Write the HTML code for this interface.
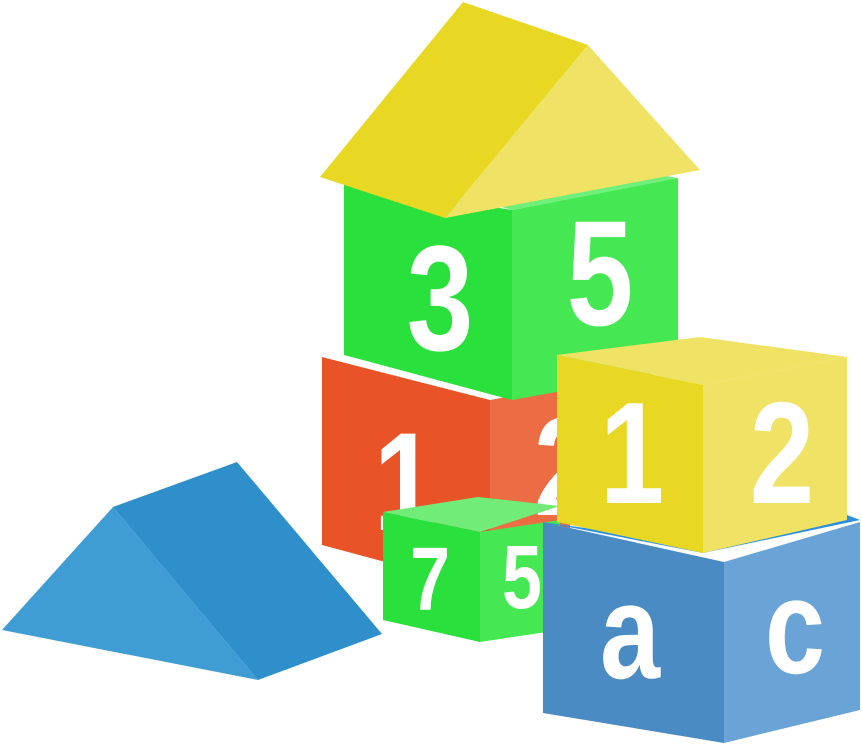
<!DOCTYPE html>
<html><head><meta charset="utf-8"><style>
html,body{margin:0;padding:0;background:#fff;width:862px;height:746px;overflow:hidden}
text{font-family:"Liberation Sans",sans-serif;font-weight:bold;fill:#fff}
</style></head><body>
<svg width="862" height="746" viewBox="0 0 862 746">
<g>
<polygon points="113,507 2,630 258,680" fill="#3f9dd4"/>
<polygon points="113,507 237,462 382,634 258,680" fill="#2f8fca"/>
</g>
<g>
<polygon points="322,357 490,400 490,590 322,545" fill="#e85427"/>
<polygon points="490,400 570,385 570,575 490,590" fill="#ec6c43"/>
<text transform="translate(405,530) scale(0.8,1)" font-size="140" text-anchor="middle">1</text>
<text transform="translate(565,515) scale(0.8,1)" font-size="140" text-anchor="middle">2</text>
</g>
<g>
<polygon points="344,183 512,210 512,400 344,355" fill="#2ae03c"/>
<polygon points="512,210 678,178 678,370 512,400" fill="#45e852"/>
<polygon points="495,205 512,210 678,178 660,175" fill="#6ff07a"/>
<text transform="translate(440,350) scale(0.8,1)" font-size="150" text-anchor="middle">3</text>
<text transform="translate(600,325) scale(0.8,1)" font-size="150" text-anchor="middle">5</text>
</g>
<g>
<polygon points="463,2 320,177 445,218 588,45" fill="#e8d723"/>
<polygon points="588,45 445,218 700,170" fill="#f0e264"/>
</g>
<g>
<polygon points="383,512 478,497 560,506 480,532" fill="#72ec78"/>
<polygon points="383,512 480,532 480,642 383,620" fill="#2ae03c"/>
<polygon points="480,532 560,520 560,630 480,642" fill="#45e852"/>
<text transform="translate(430,610) scale(0.8,1)" font-size="90" text-anchor="middle">7</text>
<text transform="translate(522,608) scale(0.8,1)" font-size="90" text-anchor="middle">5</text>
</g>
<g>
<polygon points="543,522 703,553 860,520 847,515 703,545" fill="#2a8ee0"/>
<polygon points="543,522 724,562 724,743 543,713" fill="#4a8bc4"/>
<polygon points="724,562 860,522 860,710 724,743" fill="#6aa3d6"/>
<text transform="translate(630,678) scale(0.8,1)" font-size="135" text-anchor="middle">a</text>
<text transform="translate(795,673) scale(0.8,1)" font-size="135" text-anchor="middle">c</text>
</g>
<g>
<polygon points="557,355 700,337 847,357 703,385" fill="#f0e264"/>
<polygon points="557,355 703,385 703,553 557,522" fill="#e8d723"/>
<polygon points="703,385 847,357 847,520 703,553" fill="#f0e264"/>
<text transform="translate(632,503) scale(0.8,1)" font-size="145" text-anchor="middle">1</text>
<text transform="translate(782,503) scale(0.8,1)" font-size="145" text-anchor="middle">2</text>
</g>
</svg>
</body></html>
